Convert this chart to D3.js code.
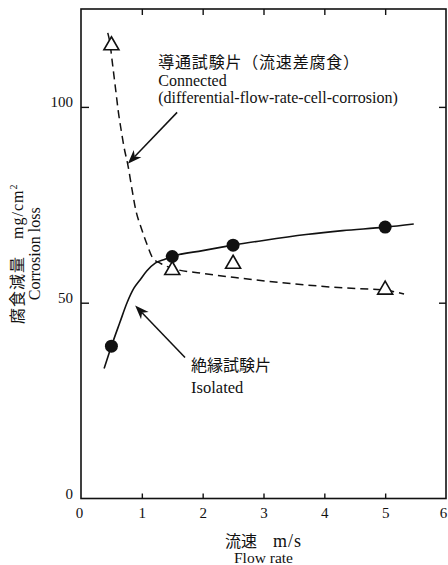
<!DOCTYPE html>
<html>
<head>
<meta charset="utf-8">
<script src="https://cdn.jsdelivr.net/npm/d3@7/dist/d3.min.js"></script>
<style>
  html, body { margin: 0; padding: 0; background: #fff; }
  svg { display: block; }
  text { font-family: "Liberation Serif", "Noto Sans CJK JP", serif; fill: #111; }
</style>
</head>
<body>
<script>
// Measured specimens: flow rate (m/s) and corrosion loss (mg/cm²)
const flowRates = [0.5, 1.5, 2.5, 5];
const connectedLoss = [116, 58.6, 60.2, 53.6];
const isolatedLoss = [38.9, 61.8, 64.7, 69.3];

// Trend curves drawn through the measurements
const connectedCurveX = [0.44, 0.48, 0.51, 0.54, 0.58, 0.61, 0.66, 0.71, 0.77, 0.84, 0.90, 0.99, 1.09, 1.18, 1.30, 1.50, 2.0, 2.6, 3.5, 4.3, 5.0, 5.31];
const connectedCurveY = [118.9, 115.9, 112.0, 108.2, 103.1, 99.2, 94.1, 89.5, 85.2, 78.8, 73.7, 69.1, 64.7, 61.4, 60.1, 58.8, 57.5, 56.3, 54.8, 53.8, 53.2, 52.2];
const isolatedCurveX = [0.38, 0.5, 0.64, 0.76, 0.87, 0.97, 1.08, 1.22, 1.38, 1.5, 2.0, 2.5, 3.0, 3.7, 4.3, 5.0, 5.47];
const isolatedCurveY = [33.2, 38.9, 45.0, 50.1, 53.7, 55.8, 58.1, 60.1, 61.1, 61.8, 63.3, 64.7, 65.9, 67.4, 68.4, 69.3, 70.1];

// Axis ticks
const xTicks = [0, 1, 2, 3, 4, 5, 6];
const yTicks = [0, 50, 100];

const W = 448, H = 565;
const svg = d3.select("body").append("svg").attr("width", W).attr("height", H);

const x = d3.scaleLinear().domain([0, 6]).range([81, 446]);
const y = d3.scaleLinear().domain([0, 125]).range([498.5, 9]);

// Frame
svg.append("rect")
  .attr("x", x(0)).attr("y", y(125))
  .attr("width", x(6) - x(0)).attr("height", y(0) - y(125))
  .attr("fill", "none").attr("stroke", "#111").attr("stroke-width", 1.6);

// Axes with inward ticks
const gLeft = svg.append("g").attr("transform", `translate(${x(0)},0)`)
  .call(d3.axisLeft(y).tickValues(yTicks).tickSizeInner(-8).tickSizeOuter(0).tickPadding(8).tickFormat(d3.format("d")));
const gBottom = svg.append("g").attr("transform", `translate(0,${y(0)})`)
  .call(d3.axisBottom(x).tickValues(xTicks).tickSizeInner(-5).tickSizeOuter(0).tickPadding(9).tickFormat(d3.format("d")));
svg.append("g").attr("transform", `translate(0,${y(125)})`)
  .call(d3.axisTop(x).tickValues(xTicks.slice(1, -1)).tickSizeInner(-6).tickSizeOuter(0).tickFormat(""));
svg.append("g").attr("transform", `translate(${x(6)},0)`)
  .call(d3.axisRight(y).tickValues(yTicks.slice(1)).tickSizeInner(-7).tickSizeOuter(0).tickFormat(""));

svg.selectAll(".domain").remove();
svg.selectAll(".tick line").attr("stroke", "#111").attr("stroke-width", 1.4);
svg.selectAll(".tick text").attr("font-size", 15).attr("font-family", "Liberation Serif, serif").attr("fill", "#111");
gLeft.selectAll(".tick text").attr("y", -5);
gBottom.selectAll(".tick line").filter(d => d === 0 || d === 6).remove();
gBottom.selectAll(".tick text").filter(d => d === 6).attr("x", -3);
gBottom.selectAll(".tick text").filter(d => d === 0).attr("x", -2);
gLeft.selectAll(".tick line").filter(d => d === 0).remove();

// Curves
const line = d3.line().x(d => x(d[0])).y(d => y(d[1])).curve(d3.curveMonotoneX);
svg.append("path")
  .datum(connectedCurveX.map((v, i) => [v, connectedCurveY[i]]))
  .attr("d", line).attr("fill", "none").attr("stroke", "#111")
  .attr("stroke-width", 1.5).attr("stroke-dasharray", "8,5");
svg.append("path")
  .datum(isolatedCurveX.map((v, i) => [v, isolatedCurveY[i]]))
  .attr("d", line).attr("fill", "none").attr("stroke", "#111").attr("stroke-width", 1.6);

// Open triangles: connected specimens
const tri = (cx, cy) => `M${cx},${cy - 7.5}L${cx + 7.5},${cy + 5.5}L${cx - 7.5},${cy + 5.5}Z`;
svg.append("g").selectAll("path")
  .data(flowRates.map((v, i) => [v, connectedLoss[i]]))
  .join("path")
  .attr("d", d => tri(x(d[0]), y(d[1])))
  .attr("fill", "#fff").attr("stroke", "#111").attr("stroke-width", 1.6);

// Filled circles: isolated specimens
svg.append("g").selectAll("circle")
  .data(flowRates.map((v, i) => [v, isolatedLoss[i]]))
  .join("circle")
  .attr("cx", d => x(d[0])).attr("cy", d => y(d[1])).attr("r", 6.5)
  .attr("fill", "#111");

// Leader arrows
function arrow(x1, y1, x2, y2) {
  const ang = Math.atan2(y2 - y1, x2 - x1);
  const len = 15, half = 0.36, back = 10;
  const p = (a, r) => [x2 - r * Math.cos(a), y2 - r * Math.sin(a)];
  const a1 = p(ang + half, len), a2 = p(ang - half, len), n = p(ang, back);
  svg.append("line").attr("x1", x1).attr("y1", y1).attr("x2", n[0]).attr("y2", n[1])
    .attr("stroke", "#111").attr("stroke-width", 1.5);
  svg.append("path")
    .attr("d", `M${x2},${y2}L${a1[0]},${a1[1]}L${n[0]},${n[1]}L${a2[0]},${a2[1]}Z`)
    .attr("fill", "#111");
}
arrow(x(1.58), y(98.6), x(0.77), y(85.5));
arrow(x(1.71), y(36.0), x(0.89), y(49.3));

// Annotations
const ann1 = svg.append("g");
ann1.append("text").attr("x", x(1.27)).attr("y", 68).attr("font-size", 16).attr("letter-spacing", 0.8)
  .text("導通試験片（流速差腐食）");
ann1.append("text").attr("x", x(1.27)).attr("y", 86).attr("font-size", 16).text("Connected");
ann1.append("text").attr("x", x(1.27)).attr("y", 103).attr("font-size", 16)
  .text("(differential-flow-rate-cell-corrosion)");

const ann2 = svg.append("g");
ann2.append("text").attr("x", x(1.81)).attr("y", 371).attr("font-size", 16).text("絶縁試験片");
ann2.append("text").attr("x", x(1.81)).attr("y", 393).attr("font-size", 16.5).text("Isolated");

// Axis titles
const cx = (x(0) + x(6)) / 2;
const xt = svg.append("text").attr("x", cx).attr("y", 547).attr("text-anchor", "middle").attr("font-size", 16);
xt.append("tspan").text("流速　");
xt.append("tspan").attr("font-size", 18).attr("letter-spacing", 1).text("m/s");
svg.append("text").attr("x", cx).attr("y", 563).attr("text-anchor", "middle").attr("font-size", 15.5)
  .text("Flow rate");

const cy = (y(0) + y(125)) / 2;
const yt = svg.append("text").attr("transform", `translate(23,${cy}) rotate(-90)`)
  .attr("text-anchor", "middle").attr("font-size", 16).attr("letter-spacing", 1);
yt.append("tspan").text("腐食減量　mg/cm");
yt.append("tspan").attr("dy", -6).attr("font-size", 10).text("2");
svg.append("text").attr("transform", `translate(40,${cy}) rotate(-90)`)
  .attr("text-anchor", "middle").attr("font-size", 16).text("Corrosion loss");
</script>
</body>
</html>
